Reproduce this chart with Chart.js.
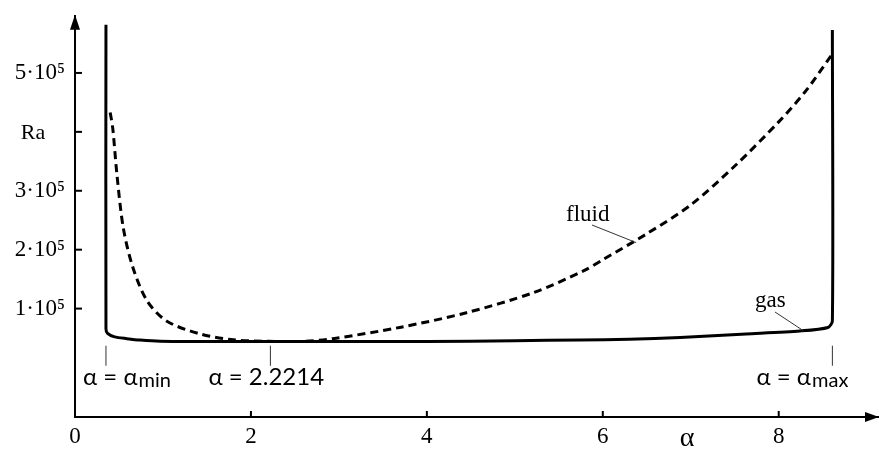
<!DOCTYPE html>
<html lang="en">

<head>
    <meta charset="UTF-8">
    <title>Ra vs alpha</title>
    <style>
        body {
            margin: 0;
            background: #ffffff;
        }

        .chart-box {
            width: 879px;
            height: 450px;
        }
    </style>
</head>

<body>
    <div class="chart-box">
        <canvas id="raChart" width="879" height="450"></canvas>
    </div>

    <script src="https://cdn.jsdelivr.net/npm/chart.js"></script>
    <script>
        // gas curve (solid), walls at alpha_min and alpha_max included
        const gasAlpha = [0.352, 0.352, 0.37, 0.45, 0.59, 0.74, 0.97, 1.6, 2.5, 3.5, 4.5, 5.0, 5.74, 6.3, 6.88, 7.63, 8.24, 8.56, 8.61, 8.61];
        const gasRa = [582000, 66000, 58000, 52000, 49000, 46500, 44500, 44000, 44000, 44000, 44500, 45500, 46700, 48000, 51000, 57000, 62000, 68000, 79000, 573000];

        // fluid curve (dashed)
        const fluidAlpha = [0.40, 0.43, 0.477, 0.55, 0.66, 0.82, 1.04, 1.42, 1.8, 2.2, 2.6, 2.93, 3.69, 4.45, 5.21, 5.78, 6.0, 6.5, 7.0, 7.5, 8.0, 8.3, 8.6];
        const fluidRa = [433000, 405000, 327000, 236000, 169000, 113000, 79000, 57000, 47000, 44500, 44500, 49000, 68000, 93000, 127000, 164000, 183000, 227000, 276000, 342000, 417000, 468000, 530000];

        // axis ticks
        const xTicks = [0, 2, 4, 6, 8];
        const yTicks = [100000, 200000, 300000, 400000, 500000];
        const yTickLabels = ['1·10⁵', '2·10⁵', '3·10⁵', '', '5·10⁵'];

        // marked alpha values under the curve
        const markAlpha = [0.352, 2.2214, 8.61];
        const markMain = ['α = α', 'α = 2.2214', 'α = α'];
        const markSub = ['min', '', 'max'];

        const toPoints = (xs, ys) => xs.map((x, i) => ({ x: x, y: ys[i] }));

        const serif = '"Liberation Serif", "DejaVu Serif", serif';
        const sans = 'Lato, "Open Sans", sans-serif';

        // ticks inside the axes, arrows, and text notes
        const extras = {
            id: 'extras',
            afterDraw(chart) {
                const ctx = chart.ctx;
                const xs = chart.scales.x;
                const ys = chart.scales.y;
                const area = chart.chartArea;
                ctx.save();
                ctx.strokeStyle = '#000';
                ctx.fillStyle = '#000';
                ctx.lineWidth = 2;

                // tick marks pointing inside
                xTicks.forEach(v => {
                    const px = xs.getPixelForValue(v);
                    ctx.beginPath();
                    ctx.moveTo(px, area.bottom);
                    ctx.lineTo(px, area.bottom - 6);
                    ctx.stroke();
                });
                yTicks.forEach(v => {
                    const py = ys.getPixelForValue(v);
                    ctx.beginPath();
                    ctx.moveTo(area.left, py);
                    ctx.lineTo(area.left + 7, py);
                    ctx.stroke();
                });

                // arrow heads
                ctx.beginPath();
                ctx.moveTo(area.left, area.top - 1);
                ctx.lineTo(area.left - 5, area.top + 14);
                ctx.lineTo(area.left + 5, area.top + 14);
                ctx.closePath();
                ctx.fill();
                ctx.beginPath();
                ctx.moveTo(area.right, area.bottom);
                ctx.lineTo(area.right - 14, area.bottom - 5);
                ctx.lineTo(area.right - 14, area.bottom + 5);
                ctx.closePath();
                ctx.fill();

                // marker lines and labels
                ctx.lineWidth = 1;
                ctx.strokeStyle = '#333';
                const offs = [-23, -62, -76];
                markAlpha.forEach((a, i) => {
                    const px = xs.getPixelForValue(a);
                    ctx.beginPath();
                    ctx.moveTo(px, ys.getPixelForValue(37000));
                    ctx.lineTo(px, ys.getPixelForValue(3000));
                    ctx.stroke();
                    ctx.textBaseline = 'alphabetic';
                    ctx.textAlign = 'left';
                    ctx.font = '24px ' + sans;
                    ctx.fillText(markMain[i], px + offs[i], 385);
                    const w = ctx.measureText(markMain[i]).width;
                    if (markSub[i]) {
                        ctx.font = '20px ' + sans;
                        ctx.fillText(markSub[i], px + offs[i] + w + 1, 387);
                    }
                });

                // Ra label and x title
                ctx.font = '22px ' + serif;
                ctx.textAlign = 'center';
                ctx.fillText('Ra', 33, ys.getPixelForValue(400000) + 7);
                ctx.font = '28px ' + serif;
                ctx.fillText('α', 687, 446);

                // curve notes with leader lines
                ctx.font = '23px ' + serif;
                ctx.textAlign = 'left';
                ctx.fillText('fluid', 566, 221);
                ctx.fillText('gas', 755, 307);
                ctx.beginPath();
                ctx.moveTo(592, 225);
                ctx.lineTo(xs.getPixelForValue(6.38), ys.getPixelForValue(212000));
                ctx.moveTo(775, 312);
                ctx.lineTo(xs.getPixelForValue(8.28), ys.getPixelForValue(62500));
                ctx.stroke();
                ctx.restore();
            }
        };

        const ctx = document.getElementById('raChart').getContext('2d');
        const raChart = new Chart(ctx, {
            type: 'scatter',
            data: {
                datasets: [{
                    label: 'gas',
                    data: toPoints(gasAlpha, gasRa),
                    showLine: true,
                    borderColor: '#000',
                    borderWidth: 3,
                    pointRadius: 0,
                    tension: 0.25
                }, {
                    label: 'fluid',
                    data: toPoints(fluidAlpha, fluidRa),
                    showLine: true,
                    borderColor: '#000',
                    borderWidth: 3,
                    borderDash: [8, 5],
                    pointRadius: 0,
                    tension: 0.3
                }]
            },
            options: {
                responsive: false,
                animation: false,
                layout: { padding: { top: 13, right: 0, bottom: 0, left: 0 } },
                plugins: {
                    legend: { display: false },
                    tooltip: { enabled: false }
                },
                scales: {
                    x: {
                        type: 'linear',
                        min: 0,
                        max: 9.14,
                        afterBuildTicks: s => { s.ticks = xTicks.map(v => ({ value: v })); },
                        afterFit: s => { s.height = 33; },
                        grid: { display: false },
                        border: { display: true, color: '#000', width: 2 },
                        ticks: {
                            autoSkip: false,
                            maxRotation: 0,
                            padding: 0,
                            color: '#000',
                            font: { family: serif, size: 23, lineHeight: 1 }
                        }
                    },
                    y: {
                        type: 'linear',
                        min: -84000,
                        max: 597000,
                        afterBuildTicks: s => { s.ticks = yTicks.map(v => ({ value: v })); },
                        afterFit: s => { s.width = 75; },
                        grid: { display: false },
                        border: { display: true, color: '#000', width: 2 },
                        ticks: {
                            autoSkip: false,
                            padding: 2,
                            color: '#000',
                            font: { family: serif, size: 23 },
                            callback: (v, i) => yTickLabels[i]
                        }
                    }
                }
            },
            plugins: [extras]
        });
    </script>
</body>

</html>
